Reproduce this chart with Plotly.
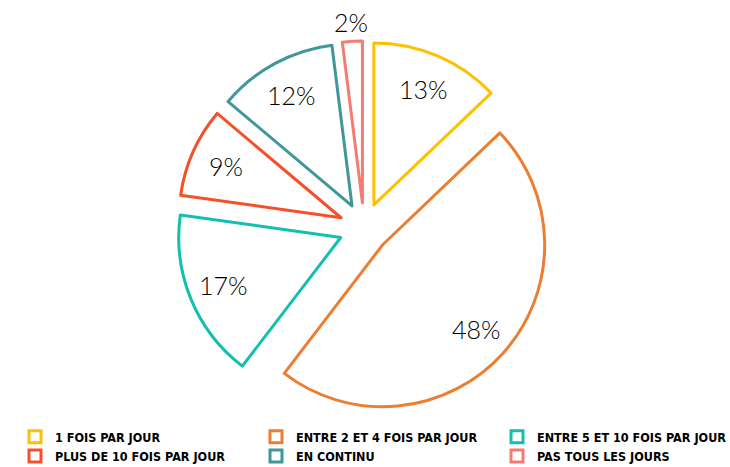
import math
import plotly.graph_objects as go

labels = ["1 FOIS PAR JOUR", "ENTRE 2 ET 4 FOIS PAR JOUR", "ENTRE 5 ET 10 FOIS PAR JOUR",
          "PLUS DE 10 FOIS PAR JOUR", "EN CONTINU", "PAS TOUS LES JOURS"]
values = [13, 48, 17, 9, 12, 2]
colors = ["#FFC000", "#ED7D31", "#12BFB0", "#F4502A", "#3F9799", "#F47C70"]
label_outside = [False, False, False, False, False, True]

W, H = 730, 467
CX, CY, R = 364, 228, 162      # pie centre / radius in pixels (style)
PULL = 0.155
half = R * (1 + PULL)

fig = go.Figure(go.Pie(
    labels=labels,
    values=values,
    sort=False,
    direction="clockwise",
    rotation=0,
    pull=[PULL] * len(values),
    marker=dict(colors=["white"] * len(values), line=dict(color=colors, width=3)),
    textinfo="none",
    hoverinfo="label+value",
    domain=dict(x=[(CX - half) / W, (CX + half) / W],
                y=[(H - CY - half) / H, (H - CY + half) / H]),
    showlegend=True,
))

# percentage labels placed along each slice's mid-angle
total = sum(values)
cum = 0
annotations = []
for v, out in zip(values, label_outside):
    theta = 2 * math.pi * (cum + v / 2) / total
    cum += v
    rr = R * (PULL + (1.12 if out else 0.78))
    px = CX + rr * math.sin(theta)
    py = CY - rr * math.cos(theta)
    annotations.append(dict(
        x=px / W, y=1 - py / H, xref="paper", yref="paper",
        text=f"{v}%", showarrow=False, xanchor="center", yanchor="middle",
        font=dict(family="Lato", size=25, color="#000000", weight=300),
    ))

fig.update_layout(
    width=W, height=H,
    margin=dict(l=0, r=0, t=0, b=0, autoexpand=False),
    paper_bgcolor="white",
    plot_bgcolor="white",
    annotations=annotations,
    legend=dict(
        orientation="h",
        x=15 / W, xanchor="left",
        y=-4 / H, yanchor="bottom",
        entrywidth=196, entrywidthmode="pixels",
        font=dict(family="DejaVu Sans Condensed", size=12.5, color="#000000", weight="bold"),
        traceorder="normal",
    ),
)

fig.write_html("out.html")
